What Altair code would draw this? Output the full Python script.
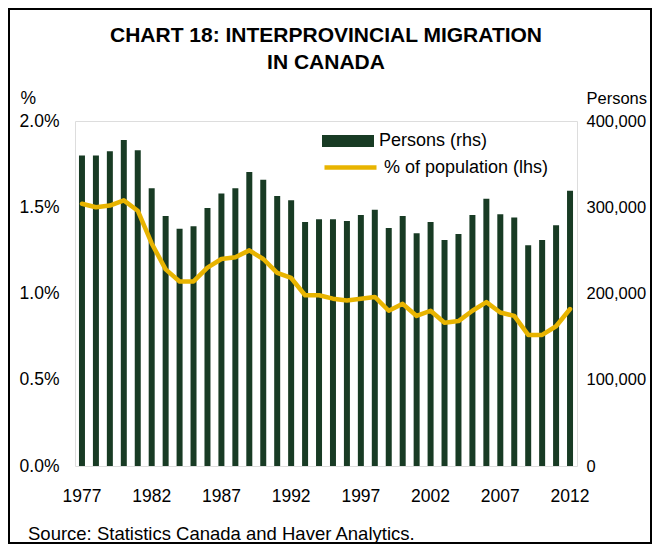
import altair as alt
import pandas as pd

years = list(range(1977, 2013))
persons = [360000, 360000, 365000, 378000, 366000, 322000, 290000, 275000, 278000, 299000,
           316000, 322000, 341000, 332000, 313000, 308000, 283000, 286000, 286000, 284000,
           291000, 297000, 276000, 290000, 270000, 283000, 262000, 269000, 291000, 310000,
           292000, 288000, 256000, 262000, 279000, 319000]
pct = [1.52, 1.50, 1.51, 1.54, 1.48, 1.29, 1.14, 1.07, 1.07, 1.15,
       1.20, 1.21, 1.25, 1.20, 1.12, 1.09, 0.99, 0.99, 0.97, 0.96,
       0.97, 0.98, 0.90, 0.94, 0.87, 0.90, 0.83, 0.84, 0.90, 0.95,
       0.89, 0.87, 0.76, 0.76, 0.81, 0.91]
year_ticks = [1977, 1982, 1987, 1992, 1997, 2002, 2007, 2012]
left_ticks = [0.0, 0.5, 1.0, 1.5, 2.0]
right_ticks = [0, 100000, 200000, 300000, 400000]
series_names = ["Persons (rhs)", "% of population (lhs)"]
title_lines = ["CHART 18: INTERPROVINCIAL MIGRATION", "IN CANADA"]
source_text = "Source: Statistics Canada and Haver Analytics."

GREEN = "#183b24"
GOLD = "#e8b400"
FONT = "Liberation Sans"
FS = 17.5
FSR = 16.5

df = pd.DataFrame({"year": years, "persons": persons, "pct": pct})

W, H = 502, 345
PAD = {"left": 67, "top": 113, "right": 75, "bottom": 78}

base = alt.Chart(df)

xenc = alt.X(
    "year:O",
    scale=alt.Scale(paddingInner=0.57, paddingOuter=0.285),
    axis=alt.Axis(values=year_ticks, labelAngle=0, title=None, ticks=False, domain=False,
                  labelPadding=21, labelFontSize=FS, labelFont=FONT, labelColor="#000"),
)

bars = base.mark_bar().transform_calculate(s1="'" + series_names[0] + "'").encode(
    x=xenc,
    y=alt.Y("persons:Q", scale=alt.Scale(domain=[0, 400000]),
            axis=alt.Axis(orient="right", values=right_ticks,
                          labelExpr="format(datum.value, ',')", grid=False,
                          ticks=False, domain=False, labelPadding=9, labelFontSize=FSR,
                          labelFont=FONT, labelColor="#000", labelLimit=0,
                          title="Persons", titleAngle=0, titleX=9, titleY=-18,
                          titleAlign="left", titleBaseline="alphabetic", titleLimit=0,
                          titleFontSize=FSR, titleFont=FONT, titleFontWeight="normal")),
    fill=alt.Fill("s1:N", scale=alt.Scale(domain=[series_names[0]], range=[GREEN]),
                  legend=alt.Legend(orient="none", legendX=247, legendY=-6, title=None,
                                    symbolType="M-1,-0.23H1V0.23H-1Z", symbolSize=2704,
                                    symbolStrokeWidth=0, labelFontSize=18, labelFont=FONT,
                                    labelColor="#000", labelOffset=5, padding=0,
                                    labelLimit=0)),
)

line = base.mark_line(strokeWidth=4.5, strokeJoin="round", strokeCap="round").transform_calculate(
    s2="'" + series_names[1] + "'").encode(
    x=xenc,
    y=alt.Y("pct:Q", scale=alt.Scale(domain=[0, 2]),
            axis=alt.Axis(orient="left", values=left_ticks,
                          labelExpr="format(datum.value, '.1f') + '%'", grid=False,
                          ticks=False, domain=False, labelPadding=16, labelFontSize=FS,
                          labelFont=FONT, labelColor="#000",
                          title="%", titleAngle=0, titleX=-55, titleY=-18,
                          titleAlign="left", titleBaseline="alphabetic",
                          titleFontSize=FS, titleFont=FONT, titleFontWeight="normal")),
    stroke=alt.Stroke("s2:N", scale=alt.Scale(domain=[series_names[1]], range=[GOLD]),
                      legend=alt.Legend(orient="none", legendX=247, legendY=18, title=None,
                                        symbolType="stroke", symbolSize=2704,
                                        symbolStrokeWidth=4.5, labelFontSize=18, labelFont=FONT,
                                        labelColor="#000", labelOffset=5, padding=0,
                                        labelLimit=0)),
)

one = alt.Data(values=[{"a": 1}])

frame = alt.Chart(one).mark_rect(
    fill=None, stroke="#000", strokeWidth=2).encode(
    x=alt.value(-PAD["left"] + 1), x2=alt.value(W + PAD["right"] - 1),
    y=alt.value(-PAD["top"] + 1), y2=alt.value(H + PAD["bottom"] - 1))

title1 = alt.Chart(alt.Data(values=[{"t": title_lines[0]}])).mark_text(
    align="center", baseline="alphabetic", fontSize=21, fontWeight="bold", font=FONT,
    color="#000").encode(text="t:N", x=alt.value(W / 2), y=alt.value(-79))
title2 = alt.Chart(alt.Data(values=[{"t": title_lines[1]}])).mark_text(
    align="center", baseline="alphabetic", fontSize=21, fontWeight="bold", font=FONT,
    color="#000").encode(text="t:N", x=alt.value(W / 2), y=alt.value(-52))

source = alt.Chart(alt.Data(values=[{"t": source_text}])).mark_text(
    align="left", baseline="middle", fontSize=18.5, font=FONT, color="#000").encode(
    text="t:N", x=alt.value(-47), y=alt.value(413))

chart = alt.layer(bars, line, frame, title1, title2, source).resolve_scale(
    y="independent", fill="independent", stroke="independent").properties(
    width=W, height=H, padding=PAD, autosize=alt.AutoSizeParams(type="none"),
).configure_view(stroke="#000", strokeWidth=2).configure(background="white")

chart.save("out.html", embed_options={"renderer": "svg", "actions": False})
